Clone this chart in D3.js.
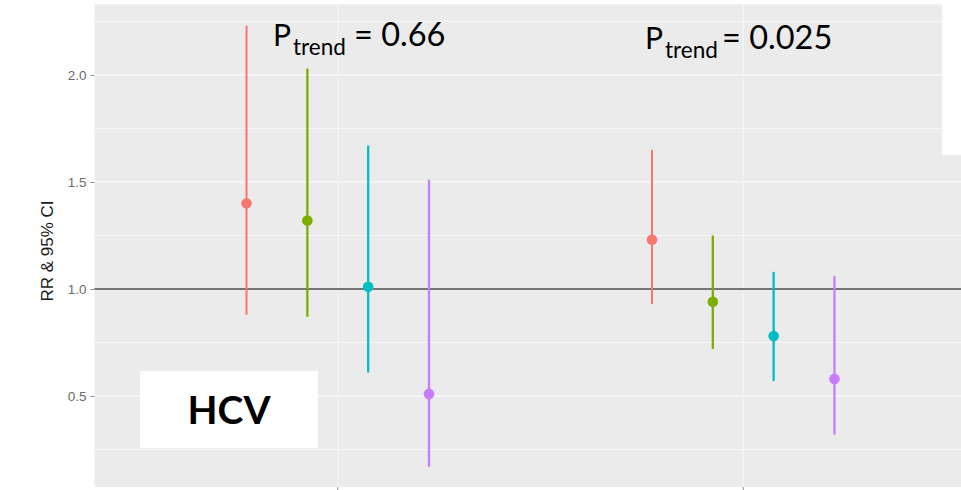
<!DOCTYPE html>
<html>
<head>
<meta charset="utf-8">
<script src="https://cdn.jsdelivr.net/npm/d3@7"></script>
<style>
  html, body { margin: 0; padding: 0; background: #ffffff; }
  svg { display: block; }
</style>
</head>
<body>
<svg id="chart" width="961" height="490"></svg>
<script>
// Two comparison groups on the x axis, four exposure levels dodged within each
const groups = [1, 2];
const levels = ["Q1", "Q2", "Q3", "Q4"];
const levelColors = ["#F8766D", "#7CAE00", "#00BFC4", "#C77CFF"];

// Rate ratio point estimates and 95% CI bounds, one array per group
const rrGroup1 = [1.40, 1.32, 1.01, 0.51];
const loGroup1 = [0.88, 0.87, 0.61, 0.17];
const hiGroup1 = [2.23, 2.03, 1.67, 1.51];

const rrGroup2 = [1.23, 0.94, 0.78, 0.58];
const loGroup2 = [0.93, 0.72, 0.57, 0.32];
const hiGroup2 = [1.65, 1.25, 1.08, 1.06];

const yTicks = [0.5, 1.0, 1.5, 2.0];
const yMinorTicks = [0.25, 0.75, 1.25, 1.75, 2.25];
const trendLabels = ["0.66", "0.025"];
const referenceValue = 1.0;
const yTitle = "RR & 95% CI";
const panelLabel = "HCV";

// Long-format rows built from the arrays above
const rows = [];
[[rrGroup1, loGroup1, hiGroup1], [rrGroup2, loGroup2, hiGroup2]].forEach(([rr, lo, hi], gi) => {
  levels.forEach((lv, li) => {
    rows.push({ group: groups[gi], level: lv, li, rr: rr[li], lo: lo[li], hi: hi[li] });
  });
});

const svg = d3.select("#chart");
const panel = { left: 94.5, top: 4.3, right: 986.5, bottom: 487 };

const x = d3.scaleLinear().domain([0.4, 2.6]).range([panel.left, panel.right]);
const y = d3.scaleLinear().domain([0.075, 2.33]).range([panel.bottom, panel.top]);
const dodgeWidth = 0.6;
const dodge = d3.scaleBand().domain(levels).range([-dodgeWidth / 2, dodgeWidth / 2]);
const xPos = d => x(d.group + dodge(d.level) + dodge.bandwidth() / 2);

// Panel background
svg.append("rect")
  .attr("x", panel.left).attr("y", panel.top)
  .attr("width", panel.right - panel.left).attr("height", panel.bottom - panel.top)
  .attr("fill", "#EBEBEB");

// Grid lines
const grid = svg.append("g");
grid.selectAll("line.minor").data(yMinorTicks).join("line")
  .attr("x1", panel.left).attr("x2", panel.right)
  .attr("y1", d => y(d)).attr("y2", d => y(d))
  .attr("stroke", "#F7F7F7").attr("stroke-width", 1);
grid.selectAll("line.major").data(yTicks).join("line")
  .attr("x1", panel.left).attr("x2", panel.right)
  .attr("y1", d => y(d)).attr("y2", d => y(d))
  .attr("stroke", "#F7F7F7").attr("stroke-width", 1.8);
grid.selectAll("line.vmajor").data(groups).join("line")
  .attr("x1", d => x(d)).attr("x2", d => x(d))
  .attr("y1", panel.top).attr("y2", panel.bottom)
  .attr("stroke", "#F4F4F4").attr("stroke-width", 1.4);

// Reference line at RR = 1
svg.append("line")
  .attr("x1", panel.left).attr("x2", panel.right)
  .attr("y1", y(referenceValue)).attr("y2", y(referenceValue))
  .attr("stroke", "#4a4a4a").attr("stroke-width", 1.4);

// Confidence intervals and point estimates
const marks = svg.append("g");
marks.selectAll("line.ci").data(rows).join("line")
  .attr("x1", xPos).attr("x2", xPos)
  .attr("y1", d => y(d.lo)).attr("y2", d => y(d.hi))
  .attr("stroke", d => levelColors[d.li])
  .attr("stroke-width", d => d.li === 0 ? 2 : 2.3);
marks.selectAll("circle").data(rows).join("circle")
  .attr("cx", xPos).attr("cy", d => y(d.rr)).attr("r", 5.3)
  .attr("fill", d => levelColors[d.li]);

// Y axis
const yAxis = svg.append("g")
  .attr("transform", `translate(${panel.left},0)`)
  .call(d3.axisLeft(y).tickValues(yTicks).tickFormat(d3.format(".1f")).tickSize(4).tickPadding(4));
yAxis.select(".domain").remove();
yAxis.selectAll(".tick line").attr("stroke", "#8a8a8a").attr("stroke-width", 1);
yAxis.selectAll(".tick text")
  .attr("fill", "#6b6b6b")
  .style("font-family", "'Liberation Sans', Arial, sans-serif")
  .style("font-size", "13.5px");

// X axis ticks (labels fall below the visible area)
svg.selectAll("line.xtick").data(groups).join("line")
  .attr("x1", d => x(d)).attr("x2", d => x(d))
  .attr("y1", panel.bottom).attr("y2", panel.bottom + 4)
  .attr("stroke", "#8a8a8a").attr("stroke-width", 1);

// Y axis title
svg.append("text")
  .attr("transform", "translate(53,251) rotate(-90)")
  .attr("text-anchor", "middle")
  .attr("fill", "#1a1a1a")
  .style("font-family", "'Liberation Sans', Arial, sans-serif")
  .style("font-size", "17px")
  .text(yTitle);

// Trend p-value annotations: main letter, subscript, then the value
const trendPos = [
  { p: 273, sub: 293, val: 354, y: 46 },
  { p: 645, sub: 665, val: 722, y: 49 }
];
trendLabels.forEach((val, i) => {
  const pos = trendPos[i];
  const g = svg.append("g")
    .attr("fill", "#000")
    .style("font-family", "Lato, 'Open Sans', sans-serif");
  g.append("text").attr("x", pos.p).attr("y", pos.y).style("font-size", "30px").text("P");
  g.append("text").attr("x", pos.sub).attr("y", pos.y + 9).style("font-size", "22.5px").text("trend");
  g.append("text").attr("x", pos.val).attr("y", pos.y).style("font-size", "32.5px").text("= " + val);
});

// Panel label box
svg.append("rect")
  .attr("x", 140).attr("y", 371).attr("width", 178).attr("height", 77)
  .attr("fill", "#ffffff");
svg.append("text")
  .attr("x", 229).attr("y", 424)
  .attr("text-anchor", "middle")
  .attr("fill", "#000")
  .style("font-family", "Lato, 'Open Sans', sans-serif")
  .style("font-weight", "bold")
  .style("font-size", "39px")
  .text(panelLabel);

// Slide margin covering the upper right corner of the panel
svg.append("rect")
  .attr("x", 942).attr("y", 0).attr("width", 19).attr("height", 155)
  .attr("fill", "#ffffff");
</script>
</body>
</html>
